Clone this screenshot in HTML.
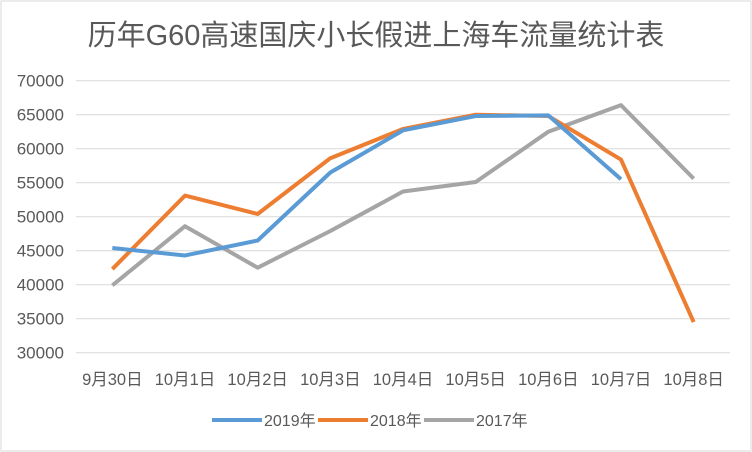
<!DOCTYPE html>
<html><head><meta charset="utf-8"><style>
body{margin:0;background:#fff;}
svg{display:block;font-family:"Liberation Sans","Noto Sans CJK SC",sans-serif;}
</style></head><body>
<svg id="chart" width="752" height="452" viewBox="0 0 752 452">
<rect x="1" y="1" width="750" height="450" fill="#fff" stroke="#d9d9d9"/>
<text x="376" y="45" text-anchor="middle" font-size="29" fill="#595959">历年G60高速国庆小长假进上海车流量统计表</text>
<g id="grid"></g><g id="lines"></g><g id="xlabels"></g>
<g>
<line x1="212" y1="420" x2="262" y2="420" stroke="#5b9bd5" stroke-width="4"/>
<text x="264" y="426" font-size="16" fill="#595959">2019年</text>
<line x1="318" y1="420" x2="368" y2="420" stroke="#ed7d31" stroke-width="4"/>
<text x="370" y="426" font-size="16" fill="#595959">2018年</text>
<line x1="424" y1="420" x2="474" y2="420" stroke="#a5a5a5" stroke-width="4"/>
<text x="476" y="426" font-size="16" fill="#595959">2017年</text>
</g>
</svg>
<script>
const categories=["9月30日","10月1日","10月2日","10月3日","10月4日","10月5日","10月6日","10月7日","10月8日"];
const s2019=[45400,44300,46500,56500,62700,64800,64900,55500,null];
const s2018=[42300,53100,50400,58600,62900,65000,64800,58400,34500];
const s2017=[39900,48600,42500,47900,53700,55100,62500,66400,55600];
const yTicks=[30000,35000,40000,45000,50000,55000,60000,65000,70000];
const NS="http://www.w3.org/2000/svg";
const x0=76,x1=730,yMin=30000,yMax=70000,py0=352.7,py1=80.7;
const xs=i=>x0+(x1-x0)/categories.length*(i+0.5);
const ys=v=>py0+(v-yMin)/(yMax-yMin)*(py1-py0);
const grid=document.getElementById('grid');
yTicks.forEach(t=>{
 const l=document.createElementNS(NS,'line');
 l.setAttribute('x1',x0);l.setAttribute('x2',x1);l.setAttribute('y1',ys(t));l.setAttribute('y2',ys(t));
 l.setAttribute('stroke','#d9d9d9');l.setAttribute('stroke-width','1');
 
 
 grid.appendChild(l);
 const tx=document.createElementNS(NS,'text');
 tx.setAttribute('x',64);tx.setAttribute('y',ys(t)+6);tx.setAttribute('text-anchor','end');
 tx.setAttribute('font-size','17');tx.setAttribute('fill','#595959');tx.textContent=t;
 
 
 grid.appendChild(tx);
});
const xl=document.getElementById('xlabels');
categories.forEach((c,i)=>{
 const tx=document.createElementNS(NS,'text');
 tx.setAttribute('x',xs(i));tx.setAttribute('y',385);tx.setAttribute('text-anchor','middle');
 tx.setAttribute('font-size','16.5');tx.setAttribute('fill','#595959');tx.textContent=c;
 
 
 xl.appendChild(tx);
});
const lines=document.getElementById('lines');
[[s2017,'#a5a5a5','line-2017'],[s2018,'#ed7d31','line-2018'],[s2019,'#5b9bd5','line-2019']].forEach(([d,c,n])=>{
 const pts=d.map((v,i)=>v==null?null:xs(i)+','+ys(v)).filter(p=>p);
 const p=document.createElementNS(NS,'polyline');
 p.setAttribute('points',pts.join(' '));p.setAttribute('fill','none');
 p.setAttribute('stroke',c);p.setAttribute('stroke-width','4');p.setAttribute('stroke-linejoin','round');
 
 
 lines.appendChild(p);
});
</script>
</body></html>
